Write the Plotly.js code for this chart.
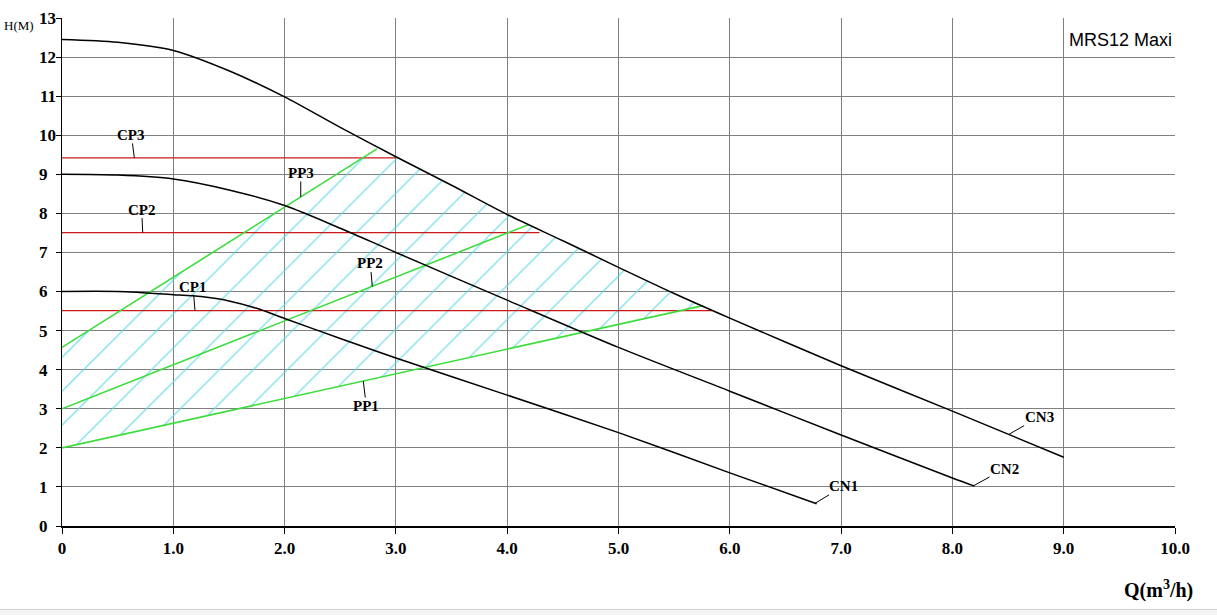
<!DOCTYPE html>
<html>
<head>
<meta charset="utf-8">
<script src="https://cdn.plot.ly/plotly-3.0.1.min.js"></script>
<style>
  html, body { margin: 0; padding: 0; background: #ffffff; }
  #chart { width: 1217px; height: 615px; }
</style>
</head>
<body>
<div id="chart"></div>
<script>
// ---- Data ----
const cn1Q = [0, 0.5, 1.0, 1.25, 1.5, 1.75, 2.0, 2.5, 3.0, 4.0, 5.0, 6.0, 6.78];
const cn1H = [6.0, 6.0, 5.92, 5.87, 5.76, 5.57, 5.31, 4.8, 4.3, 3.35, 2.39, 1.36, 0.57];

const cn2Q = [0, 0.5, 1.0, 1.5, 2.0, 2.5, 3.0, 4.0, 5.0, 6.0, 7.0, 8.0, 8.2];
const cn2H = [9.0, 8.98, 8.88, 8.6, 8.2, 7.62, 7.0, 5.78, 4.57, 3.45, 2.33, 1.23, 1.02];

const cn3Q = [0, 0.5, 1.0, 1.5, 2.0, 2.5, 3.0, 3.5, 4.0, 4.5, 5.0, 5.5, 6.0, 7.0, 8.0, 9.0];
const cn3H = [12.45, 12.38, 12.17, 11.65, 10.98, 10.2, 9.45, 8.72, 7.97, 7.3, 6.62, 5.95, 5.32, 4.1, 2.94, 1.76];

const pp1Q = [0, 5.76];
const pp1H = [2.0, 5.64];
const pp2Q = [0, 4.19];
const pp2H = [3.0, 7.71];
const pp3Q = [0, 2.83];
const pp3H = [4.57, 9.65];

const cp1Q = [0, 5.84];
const cp1H = [5.51, 5.51];
const cp2Q = [0, 4.29];
const cp2H = [7.51, 7.51];
const cp3Q = [0, 3.0];
const cp3H = [9.42, 9.42];

const xTickVals = [0, 1, 2, 3, 4, 5, 6, 7, 8, 9, 10];
const xTickText = ['0', '1.0', '2.0', '3.0', '4.0', '5.0', '6.0', '7.0', '8.0', '9.0', '10.0'];
const yTickVals = [0, 1, 2, 3, 4, 5, 6, 7, 8, 9, 10, 11, 12, 13];
const yTickText = ['0', '1', '2', '3', '4', '5', '6', '7', '8', '9', '10', '11', '12', '13'];

// curve labels and where their leader lines touch the curves
const labelText = ['CP3', 'CP2', 'CP1', 'PP3', 'PP2', 'PP1', 'CN1', 'CN2', 'CN3'];
const labelQ    = [0.65, 0.725, 1.195, 2.145, 2.788, 2.707, 6.766, 8.19, 8.51];
const labelH    = [9.42, 7.51, 5.51, 8.42, 6.13, 3.71, 0.58, 1.03, 2.35];
const labelAx   = [-3, -1, -2, 0, -2, 3, 28, 31, 30];
const labelAy   = [-23, -23, -24, -24, -23, 25, -17, -17, -17];

// ---- Build the hatched working region from the curves ----
const polyQ = [], polyH = [];
pp1Q.forEach((q, i) => { polyQ.push(q); polyH.push(pp1H[i]); });
const qHi = pp1Q[pp1Q.length - 1], qLo = pp3Q[pp3Q.length - 1];
for (let i = cn3Q.length - 1; i >= 0; i--) {
  if (cn3Q[i] < qHi && cn3Q[i] > qLo) { polyQ.push(cn3Q[i]); polyH.push(cn3H[i]); }
}
for (let i = pp3Q.length - 1; i >= 0; i--) { polyQ.push(pp3Q[i]); polyH.push(pp3H[i]); }
polyQ.push(pp1Q[0]); polyH.push(pp1H[0]);

const GREEN = '#3cdc3c', RED = '#cc1a1a', BLACK = '#000000';

const traces = [
  {
    x: polyQ, y: polyH, mode: 'lines', fill: 'toself',
    fillcolor: 'rgba(0,0,0,0)',
    fillpattern: { shape: '/', fgcolor: '#5cd8e3', bgcolor: 'rgba(255,255,255,0)', size: 24, solidity: 0.045 },
    line: { width: 0, color: 'rgba(0,0,0,0)' }, hoverinfo: 'skip'
  },
  { x: cp1Q, y: cp1H, mode: 'lines', line: { color: RED, width: 1.2 } },
  { x: cp2Q, y: cp2H, mode: 'lines', line: { color: RED, width: 1.2 } },
  { x: cp3Q, y: cp3H, mode: 'lines', line: { color: RED, width: 1.2 } },
  { x: pp1Q, y: pp1H, mode: 'lines', line: { color: GREEN, width: 1.6 } },
  { x: pp2Q, y: pp2H, mode: 'lines', line: { color: GREEN, width: 1.6 } },
  { x: pp3Q, y: pp3H, mode: 'lines', line: { color: GREEN, width: 1.6 } },
  { x: cn1Q, y: cn1H, mode: 'lines', line: { color: BLACK, width: 1.5, shape: 'spline', smoothing: 0.8 } },
  { x: cn2Q, y: cn2H, mode: 'lines', line: { color: BLACK, width: 1.5, shape: 'spline', smoothing: 0.8 } },
  { x: cn3Q, y: cn3H, mode: 'lines', line: { color: BLACK, width: 1.5, shape: 'spline', smoothing: 0.8 } }
];

const labelFont = { family: 'Liberation Serif, serif', size: 15, color: '#000' };
const annotations = labelText.map((t, i) => ({
  x: labelQ[i], y: labelH[i], xref: 'x', yref: 'y',
  text: '<b>' + t + '</b>', showarrow: true, arrowhead: 0, arrowwidth: 1, arrowcolor: '#000',
  ax: labelAx[i], ay: labelAy[i], standoff: 0, startstandoff: 0, font: labelFont, borderpad: 0
}));

annotations.push(
  { xref: 'paper', yref: 'paper', x: -0.0386, y: 0.986, xanchor: 'center', yanchor: 'middle',
    text: 'H(M)', showarrow: false,
    font: { family: 'Liberation Serif, serif', size: 13, color: '#000' } },
  { xref: 'paper', yref: 'paper', x: 0.9856, y: -0.125, xanchor: 'center', yanchor: 'middle',
    text: '<b>Q(m<sup>3</sup>/h)</b>', showarrow: false,
    font: { family: 'Liberation Serif, serif', size: 20, color: '#000' } },
  { xref: 'paper', yref: 'paper', x: 0.9506, y: 0.9567, xanchor: 'center', yanchor: 'middle',
    text: 'MRS12 Maxi', showarrow: false,
    font: { family: 'Liberation Sans, Arial, sans-serif', size: 18, color: '#000' } }
);

// single-digit labels get a trailing figure space so all y labels start at the same x, as in the reference
const yTickShown = yTickText.map(t => t.length < 2 ? t + '\u2007' : t);

const tickFont = { family: 'Liberation Serif, serif', size: 17, color: '#000', weight: 'bold' };

const layout = {
  width: 1217, height: 615,
  margin: { l: 62, r: 42, t: 18, b: 88.5, pad: 0 },
  paper_bgcolor: '#ffffff', plot_bgcolor: '#ffffff',
  showlegend: false,
  xaxis: {
    range: [0, 10], tickmode: 'array', tickvals: xTickVals, ticktext: xTickText,
    showgrid: true, gridcolor: '#808080', gridwidth: 1,
    zeroline: false, showline: true, linecolor: '#000', linewidth: 1.5,
    ticks: 'outside', ticklen: 6, tickcolor: '#000', tickwidth: 1,
    tickfont: tickFont, fixedrange: true
  },
  yaxis: {
    range: [0, 13], tickmode: 'array', tickvals: yTickVals, ticktext: yTickShown,
    showgrid: true, gridcolor: '#808080', gridwidth: 1,
    zeroline: false, showline: true, linecolor: '#000', linewidth: 1.5,
    ticks: 'outside', ticklen: 5, tickcolor: '#000', tickwidth: 1,
    ticklabelstandoff: -4,
    tickfont: tickFont, fixedrange: true
  },
  annotations: annotations,
  shapes: [
    { type: 'rect', xref: 'paper', yref: 'paper', x0: -0.06, x1: 1.04, y0: -0.1642, y1: -0.18,
      fillcolor: '#f3f3f3', line: { color: '#d0d0d0', width: 1 }, layer: 'below' }
  ]
};

Plotly.newPlot('chart', traces, layout, { displayModeBar: false, staticPlot: true });
</script>
</body>
</html>
